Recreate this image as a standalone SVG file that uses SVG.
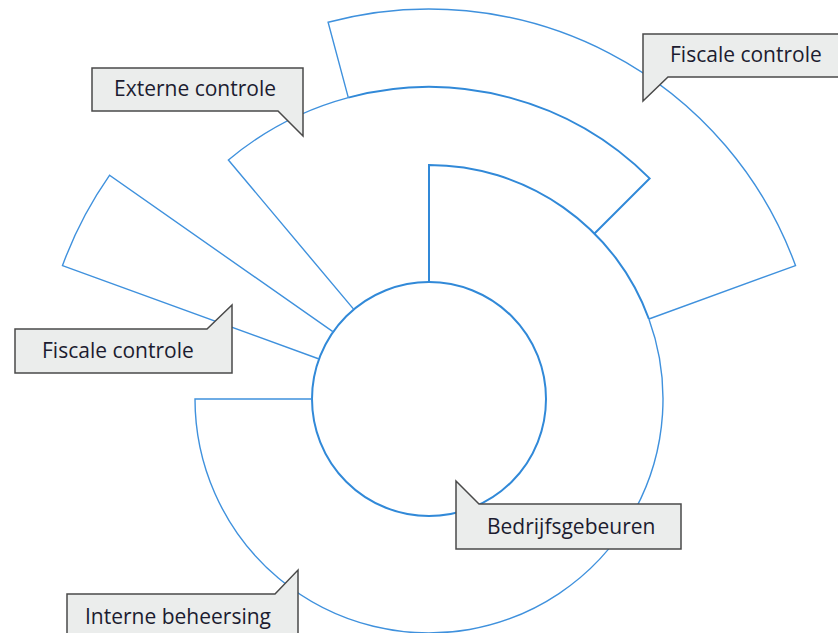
<svg xmlns="http://www.w3.org/2000/svg" width="838" height="633" viewBox="0 0 838 633">
<style>
.thin{fill:none;stroke:#3f91dd;stroke-width:1.4;stroke-linejoin:miter}
.thick{fill:none;stroke:#3189d8;stroke-width:2}
.call{fill:#ebedec;stroke:#4a4a4a;stroke-width:1.5;stroke-linejoin:miter}
.lbl{font-family:"Open Sans","Noto Sans",sans-serif;font-size:21px;fill:#1c1c30}
</style>
<rect width="838" height="633" fill="#ffffff"/>
<g id="connectors">
  <!-- inner circle -->
  <circle class="thick" cx="429" cy="399" r="117"/>
  <!-- ring r=234 -->
  <path class="thick" d="M429,282 L429,165 A234,234 0 0 1 648.9,319"/>
  <path class="thin" d="M648.9,319 A234,234 0 1 1 195,399 L312,399"/>
  <!-- externe controle sector -->
  <path class="thin" d="M353.8,309.4 L228.4,160 A312,312 0 0 1 348.3,97.6"/>
  <path class="thick" d="M348.3,97.6 A312,312 0 0 1 649.6,178.4 L594.5,233.5"/>
  <!-- fiscale controle top sector -->
  <path class="thin" d="M348.3,97.6 L328.1,22.3 A390,390 0 0 1 795.5,265.6 L648.9,319"/>
  <!-- fiscale controle left spike -->
  <path class="thin" d="M319.1,359 L62.5,265.6 A390,390 0 0 1 109.5,175.3 L333.2,331.9"/>
</g>
<g id="callout-externe-controle">
  <path class="call" d="M92,68 L303,68 L303,136 L278,111 L92,111 Z"/>
  <text class="lbl" x="114" y="96">Externe controle</text>
</g>
<g id="callout-fiscale-controle-top">
  <path class="call" d="M643,34 L845,34 L845,77 L668,77 L643,101 Z"/>
  <text class="lbl" x="670" y="62">Fiscale controle</text>
</g>
<g id="callout-fiscale-controle-left">
  <path class="call" d="M15,329 L207,329 L232,305 L232,373 L15,373 Z"/>
  <text class="lbl" x="42" y="358">Fiscale controle</text>
</g>
<g id="callout-bedrijfsgebeuren">
  <path class="call" d="M456,481 L479,504 L681,504 L681,549 L456,549 Z"/>
  <text class="lbl" x="487" y="534">Bedrijfsgebeuren</text>
</g>
<g id="callout-interne-beheersing">
  <path class="call" d="M67,594 L275,594 L298,570 L298,640 L67,640 Z"/>
  <text class="lbl" x="85" y="624">Interne beheersing</text>
</g>
</svg>
